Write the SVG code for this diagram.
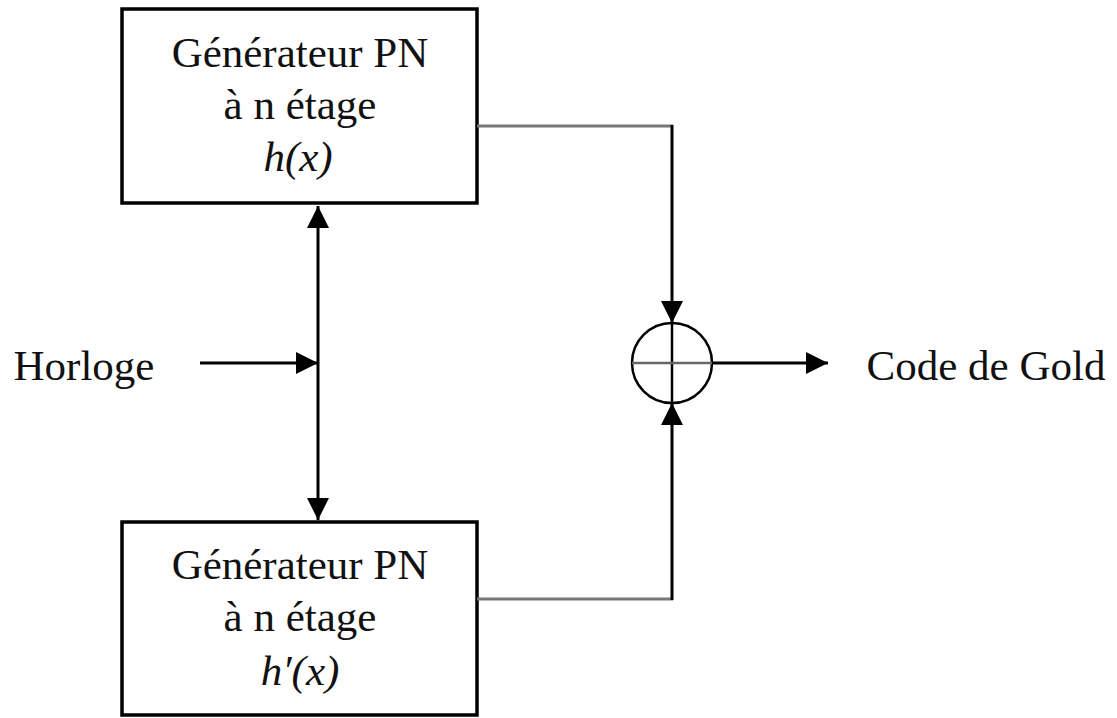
<svg xmlns="http://www.w3.org/2000/svg" width="1117" height="718" viewBox="0 0 1117 718">
<defs>
<style>
.box{fill:#fff;stroke:#000;stroke-width:3.5}
.t{font-family:"Liberation Serif","DejaVu Serif",serif;font-size:43px;fill:#111;text-anchor:middle}
.i{font-style:italic}
.ln{fill:none;stroke:#000;stroke-width:3}
.gl{fill:none;stroke:#777;stroke-width:3}
</style>
<marker id="ah" viewBox="0 0 10 10" refX="10" refY="5" markerWidth="22" markerHeight="22" markerUnits="userSpaceOnUse" orient="auto">
<path d="M0,0 L10,5 L0,10 Z" fill="#000"/>
</marker>
</defs>
<rect width="1117" height="718" fill="#fff"/>
<g id="gen1">
<rect class="box" x="122" y="9" width="355" height="194"/>
<text class="t" x="300" y="67">Générateur PN</text>
<text class="t" x="300" y="119">à n étage</text>
<text class="t i" x="298" y="171">h(x)</text>
</g>
<g id="gen2">
<rect class="box" x="122" y="522" width="355" height="193"/>
<text class="t" x="300" y="579">Générateur PN</text>
<text class="t" x="300" y="631">à n étage</text>
<text class="t i" x="300" y="685">h′(x)</text>
</g>
<g id="xor">
<circle cx="672" cy="363" r="40" fill="#fff" stroke="#000" stroke-width="2.5"/>
<line x1="672" y1="323" x2="672" y2="403" stroke="#000" stroke-width="2.5"/>
<line x1="632" y1="363" x2="712" y2="363" stroke="#666" stroke-width="2.5"/>
</g>
<g id="horloge"><text class="t" x="84" y="380">Horloge</text></g>
<g id="output"><text class="t" x="986" y="380">Code de Gold</text></g>
<g id="connectors">
<line class="ln" x1="318" y1="363" x2="318" y2="206" marker-end="url(#ah)"/>
<line class="ln" x1="318" y1="363" x2="318" y2="520" marker-end="url(#ah)"/>
<line class="ln" x1="200" y1="363" x2="318" y2="363" marker-end="url(#ah)"/>
<polyline class="gl" points="477,126 673,126"/>
<line class="ln" x1="672" y1="125" x2="672" y2="323" marker-end="url(#ah)"/>
<polyline class="gl" points="477,599 673,599"/>
<line class="ln" x1="672" y1="600" x2="672" y2="403" marker-end="url(#ah)"/>
<line class="ln" x1="712" y1="363" x2="828" y2="363" marker-end="url(#ah)"/>
</g>
</svg>
